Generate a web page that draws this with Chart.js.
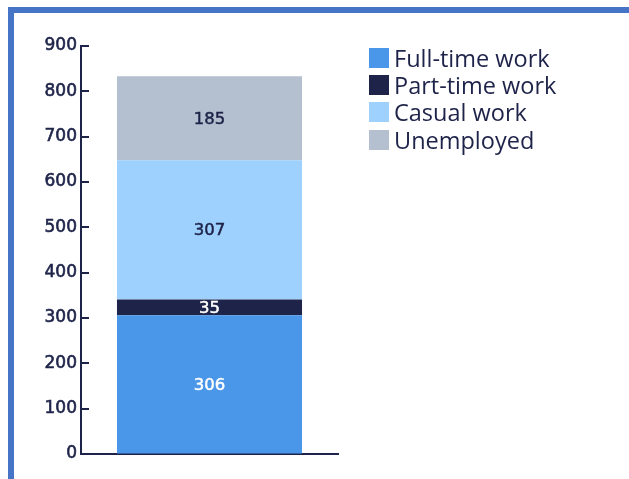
<!DOCTYPE html>
<html>
<head>
<meta charset="utf-8">
<title>Employment status</title>
<script src="https://cdn.jsdelivr.net/npm/chart.js@4.4.1/dist/chart.umd.min.js"></script>
<style>
  html, body { margin: 0; padding: 0; background: #fff; }
  body { width: 629px; height: 479px; overflow: hidden; position: relative; }
  .frame {
    position: absolute; left: 8px; top: 7px; width: 700px; height: 600px;
    border-top: 6px solid #4674c6; border-left: 6px solid #4674c6;
  }
  #chart { position: absolute; left: 0; top: 0; }
  .legend {
    position: absolute; left: 369px; top: 44px;
    font-family: "Open Sans", sans-serif; font-size: 23.5px; font-weight: 500; color: #1e2349;
  }
  .legend-item { display: flex; align-items: center; height: 27.3px; white-space: nowrap; }
  .legend-box { width: 20px; height: 20px; margin-right: 5px; flex: none; }
</style>
</head>
<body>
<div class="frame"></div>
<canvas id="chart" width="629" height="479"></canvas>
<div class="legend" id="legend"></div>

<script>
// Chart data
const categories = ['All'];
const seriesNames = ['Full-time work', 'Part-time work', 'Casual work', 'Unemployed'];
const fullTime = [306];
const partTime = [35];
const casual = [307];
const unemployed = [185];
const yTicks = [0, 100, 200, 300, 400, 500, 600, 700, 800, 900];

const NAVY = '#1e2349';
const seriesColors = ['#4a96e8', '#1e2349', '#9ed1fe', '#b4bfcf'];
const labelColors = ['#ffffff', '#ffffff', NAVY, NAVY];
const seriesValues = [fullTime, partTime, casual, unemployed];

// Short tick marks pointing into the plot from the y axis
const innerTicks = {
    id: 'innerTicks',
    afterDraw(chart) {
        const ctx = chart.ctx;
        const y = chart.scales.y;
        const left = chart.chartArea.left;
        ctx.save();
        ctx.strokeStyle = NAVY;
        ctx.lineWidth = 2;
        yTicks.forEach(v => {
            const py = Math.round(y.getPixelForValue(v));
            ctx.beginPath();
            ctx.moveTo(left, py);
            ctx.lineTo(left + 8, py);
            ctx.stroke();
        });
        ctx.restore();
    }
};

// Value printed in the middle of each segment
const segmentLabels = {
    id: 'segmentLabels',
    afterDatasetsDraw(chart) {
        const ctx = chart.ctx;
        ctx.save();
        ctx.font = '16.5px "DejaVu Sans"';
        ctx.textAlign = 'center';
        ctx.textBaseline = 'middle';
        ctx.lineWidth = 0.5;
        chart.data.datasets.forEach((ds, i) => {
            chart.getDatasetMeta(i).data.forEach((bar, j) => {
                const c = bar.getCenterPoint();
                ctx.fillStyle = labelColors[i];
                ctx.strokeStyle = labelColors[i];
                ctx.fillText(String(ds.data[j]), c.x, c.y + 1);
                ctx.strokeText(String(ds.data[j]), c.x, c.y + 1);
            });
        });
        ctx.restore();
    }
};

const chart = new Chart(document.getElementById('chart'), {
    type: 'bar',
    data: {
        labels: categories,
        datasets: seriesNames.map((name, i) => ({
            label: name,
            data: seriesValues[i],
            backgroundColor: seriesColors[i],
            borderWidth: 0,
            barPercentage: 0.72,
            categoryPercentage: 1
        }))
    },
    options: {
        responsive: false,
        animation: false,
        layout: {
            padding: { left: 21, right: 291, top: 46, bottom: 25 }
        },
        plugins: {
            legend: { display: false },
            tooltip: { enabled: false }
        },
        scales: {
            x: {
                stacked: true,
                grid: { display: false, drawTicks: false },
                ticks: { display: false },
                border: { display: true, color: NAVY, width: 2 },
                afterFit(scale) { scale.height = 0; }
            },
            y: {
                stacked: true,
                min: 0,
                max: 900,
                grid: { drawOnChartArea: false, drawTicks: false },
                border: { display: true, color: NAVY, width: 2 },
                ticks: {
                    stepSize: 100,
                    padding: 4,
                    color: NAVY,
                    textStrokeColor: NAVY,
                    textStrokeWidth: 0.6,
                    font: { family: 'DejaVu Sans', size: 17 }
                },
                afterFit(scale) { scale.width = 60; }
            }
        }
    },
    plugins: [innerTicks, segmentLabels]
});

// Legend built from the same series
const legendEl = document.getElementById('legend');
seriesNames.forEach((name, i) => {
    const item = document.createElement('div');
    item.className = 'legend-item';
    const box = document.createElement('span');
    box.className = 'legend-box';
    box.style.background = seriesColors[i];
    item.appendChild(box);
    item.appendChild(document.createTextNode(name));
    legendEl.appendChild(item);
});
</script>
</body>
</html>
